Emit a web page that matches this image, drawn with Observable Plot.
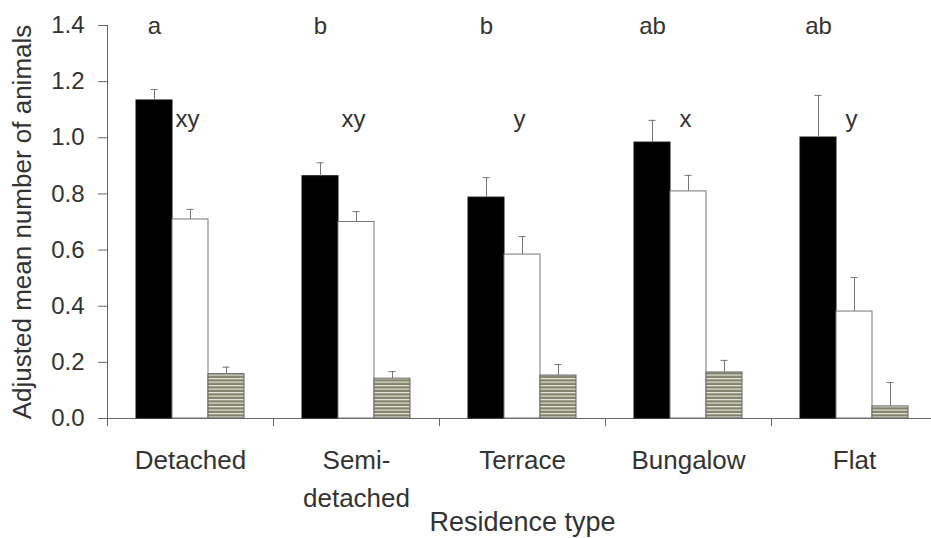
<!DOCTYPE html>
<html><head><meta charset="utf-8">
<script src="https://cdn.jsdelivr.net/npm/d3@7"></script>
<script src="https://cdn.jsdelivr.net/npm/@observablehq/plot@0.6"></script>
<style>body{margin:0;background:#fff} svg{display:block}</style>
</head><body><div id="chart"></div>
<script>
const residenceTypes = ["Detached", "Semi-detached", "Terrace", "Bungalow", "Flat"];
const categoryLabels = ["Detached", "Semi-\ndetached", "Terrace", "Bungalow", "Flat"];
const seriesNames = ["Series 1", "Series 2", "Series 3"];
const means1 = [1.133, 0.863, 0.787, 0.983, 1.001];
const upper1 = [1.172, 0.911, 0.858, 1.062, 1.151];
const means2 = [0.709, 0.700, 0.584, 0.809, 0.381];
const upper2 = [0.745, 0.737, 0.648, 0.866, 0.502];
const means3 = [0.158, 0.142, 0.153, 0.164, 0.043];
const upper3 = [0.183, 0.167, 0.192, 0.207, 0.128];
const topLetters = ["a", "b", "b", "ab", "ab"];
const midLetters = ["xy", "xy", "y", "x", "y"];
const yTicks = [0, 0.2, 0.4, 0.6, 0.8, 1.0, 1.2, 1.4];
const xTitle = "Residence type";
const yTitle = "Adjusted mean number of animals";

const meanSets = [means1, means2, means3];
const upperSets = [upper1, upper2, upper3];
const rows = [];
seriesNames.forEach((s, si) => residenceTypes.forEach((t, ti) => {
  rows.push({type: t, series: s, mean: meanSets[si][ti], upper: upperSets[si][ti]});
}));
const letters = residenceTypes.map((t, i) => ({type: t, top: topLetters[i], mid: midLetters[i], label: categoryLabels[i]}));

const bySeries = s => rows.filter(d => d.series === s);
const ink = "#333";
const axisGray = "#666";

const chart = Plot.plot({
  width: 931, height: 538,
  marginLeft: 105, marginRight: -7, marginTop: 25, marginBottom: 120,
  style: {fontFamily: "'Liberation Sans', Arial, sans-serif", fontSize: "24px", color: ink, background: "#fff", overflow: "hidden"},
  fx: {domain: residenceTypes, padding: 0, axis: null, label: null},
  x: {domain: seriesNames, paddingInner: 0, paddingOuter: 0.75, axis: null},
  y: {domain: [0, 1.4], axis: null},
  marks: [
    Plot.axisY({ticks: yTicks, tickFormat: d3.format(".1f"), tickSize: 9, tickPadding: 14, label: null, fontSize: 24, stroke: axisGray, fill: ink}),
    Plot.axisY({ticks: [], label: yTitle, labelAnchor: "center", labelArrow: "none", labelOffset: 95, fontSize: 26, fill: ink}),
    Plot.ruleY([0], {stroke: axisGray, insetLeft: -8}),
    Plot.frame({anchor: "left", insetTop: 393, insetBottom: -7, stroke: axisGray}),
    Plot.frame({anchor: "left", facetAnchor: "left", insetBottom: -7, stroke: axisGray}),
    Plot.barY(bySeries(seriesNames[0]), {fx: "type", x: "series", y: "mean", fill: "#000", stroke: "#111"}),
    Plot.barY(bySeries(seriesNames[1]), {fx: "type", x: "series", y: "mean", fill: "#fff", stroke: "#777"}),
    Plot.barY(bySeries(seriesNames[2]), {fx: "type", x: "series", y: "mean", fill: "url(#hatch)", stroke: "#666"}),
    Plot.ruleX(rows, {fx: "type", x: "series", y1: "mean", y2: "upper", stroke: "#777"}),
    Plot.tickY(rows, {fx: "type", x: "series", y: "upper", stroke: "#777", insetLeft: 14.5, insetRight: 14.5}),
    Plot.text(letters, {fx: "type", x: () => seriesNames[0], frameAnchor: "top", dy: -9, text: "top", fontSize: 24, fill: ink}),
    Plot.text(letters, {fx: "type", x: () => seriesNames[1], frameAnchor: "top", dy: 84, dx: -3, text: "mid", fontSize: 24, fill: ink}),
    Plot.text(letters, {fx: "type", x: () => seriesNames[1], frameAnchor: "bottom", lineAnchor: "top", dy: 24, lineHeight: 1.45, text: "label", fontSize: 26, fill: ink}),
    Plot.text([xTitle], {fx: () => residenceTypes[2], x: () => seriesNames[1], frameAnchor: "bottom", lineAnchor: "top", dy: 93, text: d => d, fontSize: 27, fill: ink})
  ]
});

const defs = d3.select(chart).insert("defs", ":first-child");
const pat = defs.append("pattern").attr("id", "hatch").attr("patternUnits", "userSpaceOnUse")
  .attr("width", 8).attr("height", 3.5);
pat.append("rect").attr("width", 8).attr("height", 3.5).attr("fill", "#82826a");
pat.append("rect").attr("width", 8).attr("height", 1.2).attr("fill", "#e9e9df");

document.getElementById("chart").appendChild(chart);
</script>
</body></html>
